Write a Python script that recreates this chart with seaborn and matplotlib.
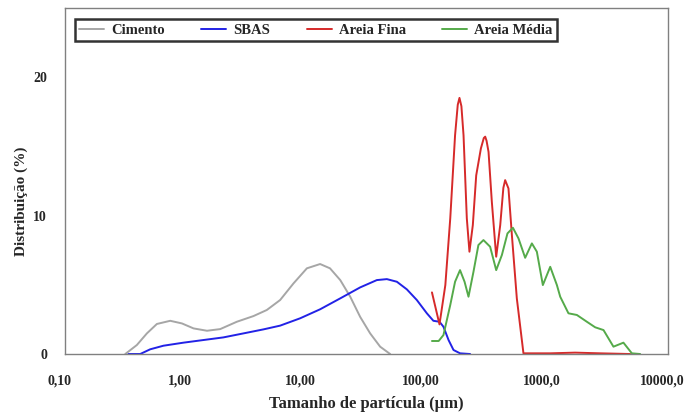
import numpy as np
import pandas as pd
import matplotlib
matplotlib.use("Agg")
import matplotlib.pyplot as plt
import matplotlib.transforms as mtransforms
import seaborn as sns

# particle size (um) and distribution (%)
cimento_size = [0.315, 0.393, 0.476, 0.576, 0.743, 0.929, 1.16, 1.50, 1.93, 2.65, 3.64, 4.70,
                6.06, 7.82, 10.1, 13.0, 15.7, 19.1, 23.1, 27.9, 33.8, 40.9, 49.5]
cimento_pct = [0.0, 0.65, 1.49, 2.17, 2.40, 2.21, 1.85, 1.68, 1.80, 2.33, 2.74, 3.18,
               3.90, 5.10, 6.19, 6.50, 6.19, 5.34, 4.14, 2.69, 1.49, 0.53, 0.0]

sbas_size = [0.335, 0.419, 0.507, 0.653, 0.957, 1.40, 2.05, 3.01, 4.41, 6.06, 8.88, 13.0,
             19.1, 27.9, 38.4, 46.5, 56.3, 68.1, 82.4, 99.8, 113, 127, 137, 151, 166, 188, 228]
sbas_pct = [0.0, 0.0, 0.34, 0.60, 0.82, 1.01, 1.20, 1.49, 1.78, 2.05, 2.58, 3.23,
            4.02, 4.81, 5.34, 5.41, 5.22, 4.67, 3.90, 2.94, 2.40, 2.33, 1.97, 1.01, 0.29, 0.05, 0.0]

fina_size = [110, 127, 142, 156, 171, 180, 186, 193, 201, 214, 225, 240, 256, 280, 296, 304, 312,
             324, 345, 375, 405, 430, 445, 474, 506, 556, 631, 1052, 1694, 2729, 4842]
fina_pct = [4.45, 2.14, 4.98, 9.80, 15.8, 18.0, 18.5, 17.9, 15.8, 9.8, 7.39, 9.31, 12.9, 14.85,
            15.6, 15.7, 15.4, 14.6, 11.0, 7.03, 9.31, 12.0, 12.56, 11.96, 8.59, 4.02, 0.05,
            0.05, 0.1, 0.05, 0.0]

media_size = [110, 125, 137, 156, 171, 188, 205, 221, 243, 267, 294, 334, 375, 418, 465, 516,
              574, 652, 741, 815, 914, 1052, 1195, 1273, 1490, 1750, 2118, 2482, 2910, 3518,
              4257, 5000, 5861]
media_pct = [0.94, 0.94, 1.37, 3.54, 5.22, 6.06, 5.22, 4.14, 5.94, 7.87, 8.23, 7.75, 6.06, 7.15,
             8.71, 9.12, 8.35, 6.95, 7.99, 7.39, 4.98, 6.30, 4.98, 4.14, 2.94, 2.82, 2.33, 1.93,
             1.73, 0.53, 0.82, 0.05, 0.0]

series = [
    ("Cimento", cimento_size, cimento_pct, "#a6a6a6"),
    ("SBAS", sbas_size, sbas_pct, "#2222e6"),
    ("Areia Fina", fina_size, fina_pct, "#d62a2a"),
    ("Areia Média", media_size, media_pct, "#55aa4a"),
]

sns.set_style("white")
plt.rcParams['font.family'] = ['Liberation Serif', 'DejaVu Serif']
plt.rcParams['font.weight'] = 'bold'

fig = plt.figure(figsize=(6.86, 4.16), dpi=100)
ax = fig.add_axes([0.095, 0.149, 0.879, 0.832])

for name, size, pct, color in series:
    df = pd.DataFrame({"size": size, "pct": pct})
    sns.lineplot(data=df, x="size", y="pct", ax=ax, color=color, linewidth=1.4,
                 sort=False, estimator=None, label=name)

ax.set_xscale("log")
ax.set_xlim(0.1, 10000)
ax.set_ylim(0, 25)
ax.set_xticks([0.1, 1, 10, 100, 1000, 10000])
ax.set_xticklabels(["0,10", "1,00", "10,00", "100,00", "1000,0", "10000,0"])
ax.minorticks_off()
ax.set_yticks([0, 10, 20])
ax.tick_params(axis="both", length=0, labelsize=10)
ax.tick_params(axis="x", pad=15)
ax.tick_params(axis="y", pad=13)
shift = mtransforms.ScaledTranslation(-6 / 100, 0, fig.dpi_scale_trans)
for lab in ax.get_xticklabels():
    lab.set_transform(lab.get_transform() + shift)
for lab in ax.get_xticklabels() + ax.get_yticklabels():
    lab.set_fontweight("bold")

for sp in ax.spines.values():
    sp.set_color("#808080")
    sp.set_linewidth(1.0)

ax.set_xlabel("Tamanho de partícula (µm)", fontsize=12, fontweight="bold", labelpad=6)
ax.set_ylabel("Distribuição (%)", fontsize=11, fontweight="bold")
ax.yaxis.set_label_coords(-0.062, 0.44)

leg = ax.legend(ncol=4, loc="upper center", bbox_to_anchor=(0.416, 0.967),
                prop={"size": 10.5, "weight": "bold"}, frameon=True, fancybox=False,
                handlelength=1.7, columnspacing=2.5, borderpad=0.3, handletextpad=0.5,
                borderaxespad=0)
leg.get_frame().set_edgecolor("black")
leg.get_frame().set_linewidth(1.8)

fig.savefig("out.png", dpi=100)
